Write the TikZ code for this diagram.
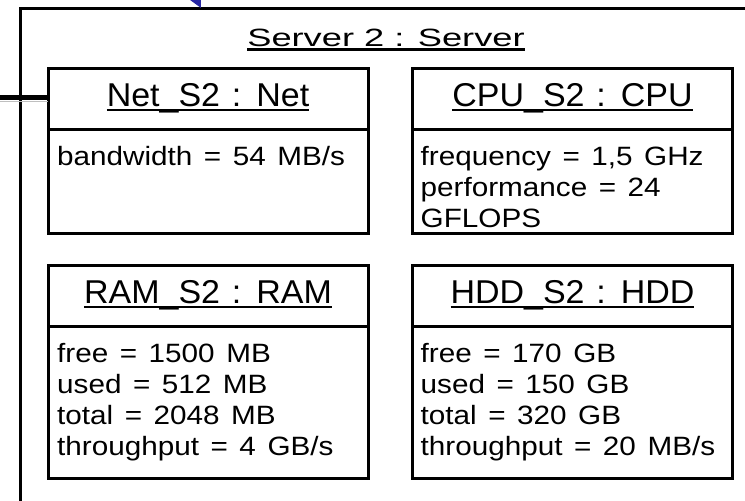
\documentclass[tikz,border=0pt]{standalone}
\usepackage{fontspec}
\setmainfont{Liberation Sans}
\newfontfamily\bodyfam{Liberation Sans}[FakeStretch=1.12,WordSpace=1.4]
\newfontfamily\hdrfam{Liberation Sans}[FakeStretch=1.03,WordSpace=1.25]
\newfontfamily\srvfam{Liberation Sans}[FakeStretch=1.45]
\usetikzlibrary{positioning,arrows.meta}
\definecolor{linkblue}{RGB}{40,40,165}
\newcommand{\objname}[1]{\setbox0\hbox{#1}\rlap{\rule[-4.5pt]{\wd0}{2.6pt}}\box0}
\tikzset{
  frame/.style={draw, line width=3pt, outer sep=0pt, inner sep=0pt},
  head/.style={frame, minimum width=320pt, minimum height=61pt,
    font=\hdrfam\fontsize{33}{40}\selectfont},
  attrs/.style={frame, minimum width=320pt},
  vals/.style={align=left, inner sep=0pt, font=\bodyfam\fontsize{26.5}{31}\selectfont},
  wire/.style={line width=5pt, preaction={draw=black!25, transform canvas={yshift=-4pt}}},
  link/.style={draw=linkblue, line width=2pt, -{Stealth[length=16pt,width=16pt]}}
}
\begin{document}
\begin{tikzpicture}[x=1pt,y=-1pt]
        \useasboundingbox (0,0) rectangle (745,501);
        \clip (0,0) rectangle (745,501);
        % outer object
        \node[frame, anchor=north west, minimum width=800pt, minimum height=560pt] at (20,8) (server) {};
        \node[anchor=base, font=\srvfam\fontsize{25}{30}\selectfont] at (386,46) (srvname) {\objname{Server 2 : Server}};
        % parts
        \node[head] at (208,98.5) (net) {\objname{Net\_S2 : Net}};
        \node[attrs, minimum height=104pt, below=0pt of net] (netattr) {};
        \node[vals, below right=17pt and 9pt of netattr.north west] (netval) {bandwidth = 54 MB/s};
        \node[head] at (572.5,98.5) (cpu) {\objname{CPU\_S2 : CPU}};
        \node[attrs, minimum height=104pt, below=0pt of cpu] (cpuattr) {};
        \node[vals, below right=17pt and 8pt of cpuattr.north west] (cpuval) {frequency = 1,5 GHz\\performance = 24\\GFLOPS};
        \node[head] at (208,295.5) (ram) {\objname{RAM\_S2 : RAM}};
        \node[attrs, minimum height=152pt, below=0pt of ram] (ramattr) {};
        \node[vals, below right=17pt and 9pt of ramattr.north west] (ramval) {free = 1500 MB\\used = 512 MB\\total = 2048 MB\\throughput = 4 GB/s};
        \node[head] at (572.5,295.5) (hdd) {\objname{HDD\_S2 : HDD}};
        \node[attrs, minimum height=152pt, below=0pt of hdd] (hddattr) {};
        \node[vals, below right=17pt and 8pt of hddattr.north west] (hddval) {free = 170 GB\\used = 150 GB\\total = 320 GB\\throughput = 20 MB/s};
        % connectors
        \coordinate (wirein) at (-10,97);
        \draw[wire] (wirein) -- (wirein -| net.west);
        \coordinate (linksrc) at (174,-45);
        \coordinate (linkend) at (201,8);
        \draw[link] (linksrc) -- (linkend);
      \end{tikzpicture}
\end{document}
